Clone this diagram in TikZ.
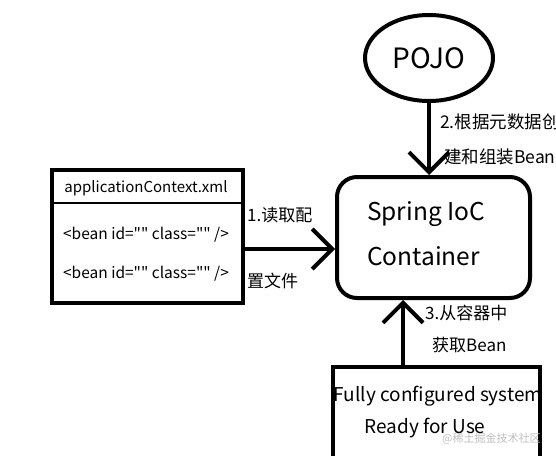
\documentclass[tikz,border=0pt]{standalone}
\usepackage{fontspec}
\newfontfamily\cjk{Noto Sans CJK SC}
\usetikzlibrary{arrows.meta,shapes.geometric,calc}
\begin{document}
\begin{tikzpicture}[x=1pt,y=-1pt,
  thick4/.style={line width=4pt},
  arr/.style={line width=4pt,-{Straight Barb[length=20pt,width=40pt,line width=4pt]}},
  lbl/.style={font=\cjk\fontsize{17}{20}\selectfont, anchor=west, inner sep=0pt},
  smalltxt/.style={font=\cjk\fontsize{15}{18}\selectfont, inner sep=0pt},
  bigtxt/.style={font=\cjk\fontsize{24.5}{28}\selectfont, inner sep=0pt}]
\useasboundingbox (0,0) rectangle (556,455);
\fill[white] (0,0) rectangle (556,455);
% POJO
\node[ellipse, draw, thick4, minimum width=128pt, minimum height=86pt, inner sep=0pt, font=\cjk\fontsize{28}{30}\selectfont] (pojo) at (429,58) {POJO};
% Container
\node[draw, thick4, rounded corners=20pt, minimum width=193pt, minimum height=121pt] (ioc) at (433.5,237.5) {};
\node[bigtxt, anchor=west] (ioc1) at (367,214) {Spring IoC};
\node[bigtxt, anchor=west] (ioc2) at (367,256) {Container};
% config box
\node[draw, thick4, minimum width=191pt, minimum height=133pt] (cfg) at (147.5,236.5) {};
\draw[line width=2pt] ($(cfg.north west)+(2,35)$) coordinate (sepL) -- ($(cfg.north east)+(-2,35)$) coordinate (sepR);
\node[smalltxt] (hdr) at (146,188) {applicationContext.xml};
\node[smalltxt, font=\cjk\fontsize{15.5}{18}\selectfont] (b1) at (146,235) {<bean id="" class="" />};
\node[smalltxt, font=\cjk\fontsize{15.5}{18}\selectfont] (b2) at (146,274) {<bean id="" class="" />};
% system box
\node[draw, thick4, minimum width=207pt, minimum height=130pt, anchor=north] (sys) at (436.5,365) {};
\node[font=\cjk\fontsize{19}{22}\selectfont, inner sep=0pt] (s1) at (438,396) {Fully configured system};
\node[font=\cjk\fontsize{19}{22}\selectfont, inner sep=0pt] (s2) at (425,428) {Ready for Use};
\node[font=\cjk\fontsize{11}{13}\selectfont, text=black!25, inner sep=0pt, anchor=west] (wm) at (442,439) {@稀土掘金技术社区};
% arrows
\coordinate (a1) at (0,249);
\coordinate (a3) at (403,0);
\draw[arr] (pojo.south) -- (pojo.south |- ioc.north);
\draw[arr] (cfg.east |- a1) -- (ioc.west |- a1);
\draw[arr] (sys.north -| a3) -- (ioc.south -| a3);
% labels
\node[lbl] (l1a) at (247,215) {1.读取配};
\node[lbl] (l1b) at (247,281) {置文件};
\node[lbl, font=\cjk\fontsize{17.5}{20}\selectfont] (l2a) at (440,122) {2.根据元数据创};
\node[lbl, font=\cjk\fontsize{17.5}{20}\selectfont] (l2b) at (444,157) {建和组装Bean};
\node[lbl] (l3a) at (425,313) {3.从容器中};
\node[lbl] (l3b) at (432,345) {获取Bean};
\end{tikzpicture}
\end{document}
